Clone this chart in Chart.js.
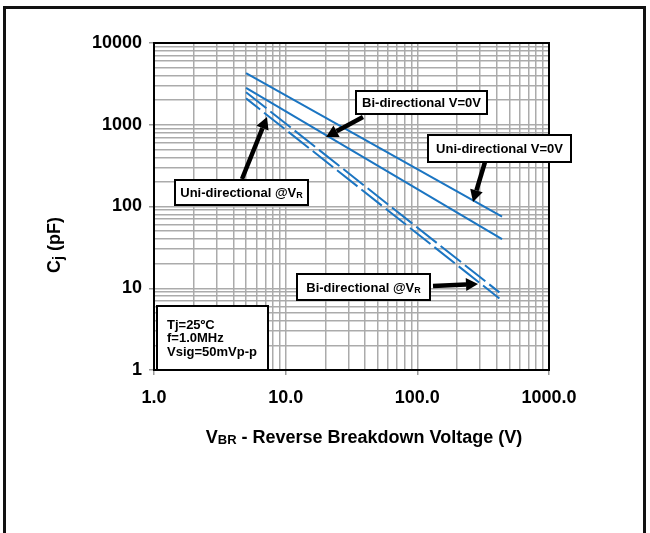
<!DOCTYPE html>
<html>
<head>
<meta charset="utf-8">
<script src="https://cdn.jsdelivr.net/npm/chart.js@4.4.1/dist/chart.umd.min.js"></script>
<style>
  html, body { margin: 0; padding: 0; background: #fff; }
  #chart { display: block; }
</style>
</head>
<body>
<canvas id="chart" width="650" height="533"></canvas>
<script>
// series (V_BR in volts, Cj in pF)
const uniZeroVbr = [5, 440];
const uniZeroCj = [4270, 75];
const biZeroVbr = [5, 440];
const biZeroCj = [2820, 40];
const uniVrVbr = [5, 420];
const uniVrCj = [2500, 8.9];
const biVrVbr = [5, 420];
const biVrCj = [2100, 7.5];

// axis ticks
const xMajor = [1, 10, 100, 1000];
const xLabels = ["1.0", "10.0", "100.0", "1000.0"];
const yMajor = [1, 10, 100, 1000, 10000];
const yLabels = ["1", "10", "100", "1000", "10000"];

const FONT = '"Liberation Sans", Arial, sans-serif';
const BLUE = "#1b75c2";

function toPoints(xs, ys) {
  return xs.map((x, i) => ({ x: x, y: ys[i] }));
}

function logTicks(majors) {
  const ticks = [];
  for (let i = 0; i < majors.length - 1; i++) {
    for (let k = 1; k < 10; k++) ticks.push({ value: majors[i] * k });
  }
  ticks.push({ value: majors[majors.length - 1] });
  return ticks;
}

function isMajor(v) {
  const l = Math.log10(v);
  return Math.abs(l - Math.round(l)) < 1e-9;
}

// draw text made of parts: [text, size, dy]
function drawRich(ctx, parts, x, y, align) {
  let w = 0;
  parts.forEach((p) => {
    ctx.font = `bold ${p[1]}px ${FONT}`;
    w += ctx.measureText(p[0]).width;
  });
  let cx = align === "center" ? x - w / 2 : x;
  ctx.textAlign = "left";
  ctx.textBaseline = "alphabetic";
  parts.forEach((p) => {
    ctx.font = `bold ${p[1]}px ${FONT}`;
    ctx.fillText(p[0], cx, y + (p[2] || 0));
    cx += ctx.measureText(p[0]).width;
  });
}

function drawArrow(ctx, x1, y1, x2, y2) {
  const ang = Math.atan2(y2 - y1, x2 - x1);
  const head = 12;
  const half = 6.5;
  const bx = x2 - head * Math.cos(ang);
  const by = y2 - head * Math.sin(ang);
  ctx.strokeStyle = "#000";
  ctx.lineWidth = 4.5;
  ctx.beginPath();
  ctx.moveTo(x1, y1);
  ctx.lineTo(bx, by);
  ctx.stroke();
  ctx.fillStyle = "#000";
  ctx.beginPath();
  ctx.moveTo(x2, y2);
  ctx.lineTo(bx + half * Math.sin(ang), by - half * Math.cos(ang));
  ctx.lineTo(bx - half * Math.sin(ang), by + half * Math.cos(ang));
  ctx.closePath();
  ctx.fill();
}

const boxes = [
  { r: [356, 91, 487, 114], parts: [["Bi-directional V=0V", 13]] },
  { r: [428, 135, 571, 162], parts: [["Uni-directional V=0V", 13]] },
  { r: [175, 180, 308, 205], parts: [["Uni-directional @V", 13], ["R", 9, 1]] },
  { r: [297, 274, 430, 300], parts: [["Bi-directional @V", 13], ["R", 9, 1]] },
];

const arrows = [
  [363, 117, 326, 137],
  [242, 179, 267, 117],
  [485, 162, 473, 202],
  [433, 286, 478, 284],
];

const plotFrame = {
  id: "plotFrame",
  beforeDatasetsDraw(chart) {
    const { ctx, chartArea: a } = chart;
    ctx.save();
    ctx.strokeStyle = "#000";
    ctx.lineWidth = 2;
    ctx.strokeRect(a.left, a.top, a.right - a.left, a.bottom - a.top);
    ctx.restore();
  },
};

const extras = {
  id: "extras",
  afterDatasetsDraw(chart) {
    const ctx = chart.ctx;
    ctx.save();

    boxes.forEach((b) => {
      const [x1, y1, x2, y2] = b.r;
      ctx.fillStyle = "#fff";
      ctx.fillRect(x1, y1, x2 - x1, y2 - y1);
      ctx.strokeStyle = "#000";
      ctx.lineWidth = 2;
      ctx.strokeRect(x1, y1, x2 - x1, y2 - y1);
      ctx.fillStyle = "#000";
      drawRich(ctx, b.parts, (x1 + x2) / 2, (y1 + y2) / 2 + 4.7, "center");
    });

    arrows.forEach((a) => drawArrow(ctx, a[0], a[1], a[2], a[3]));

    // test conditions box
    ctx.fillStyle = "#fff";
    ctx.fillRect(157, 306, 111, 64);
    ctx.strokeStyle = "#000";
    ctx.lineWidth = 2;
    ctx.strokeRect(157, 306, 111, 64);
    ctx.fillStyle = "#000";
    drawRich(ctx, [["Tj=25ºC", 13]], 167, 329, "left");
    drawRich(ctx, [["f=1.0MHz", 13]], 167, 342, "left");
    drawRich(ctx, [["Vsig=50mVp-p", 13]], 167, 356, "left");

    ctx.restore();
  },
  afterDraw(chart) {
    const ctx = chart.ctx;
    ctx.save();
    ctx.fillStyle = "#000";

    // x title
    drawRich(ctx, [["V", 18], ["BR", 13, 1], [" - Reverse Breakdown Voltage (V)", 18]], 364, 443, "center");

    // y title, rotated
    ctx.translate(60, 245);
    ctx.rotate(-Math.PI / 2);
    drawRich(ctx, [["C", 18], ["j", 14, 3], [" (pF)", 18]], 0, 0, "center");
    ctx.restore();

    // outer frame
    ctx.save();
    ctx.strokeStyle = "#111";
    ctx.lineWidth = 3;
    ctx.beginPath();
    ctx.moveTo(4.5, 533);
    ctx.lineTo(4.5, 7.5);
    ctx.lineTo(644.5, 7.5);
    ctx.lineTo(644.5, 533);
    ctx.stroke();
    ctx.restore();
  },
};

function lineSet(label, xs, ys, dash, offset) {
  return {
    label: label,
    data: toPoints(xs, ys),
    borderColor: BLUE,
    borderWidth: 2,
    borderDash: dash,
    borderDashOffset: offset,
    pointRadius: 0,
    tension: 0,
    fill: false,
  };
}

const gridOpts = {
  color: "#ababab",
  lineWidth: 1.5,
  drawTicks: true,
  tickLength: 5,
  tickColor: (c) => (c.tick && isMajor(c.tick.value) ? "#9a9a9a" : "rgba(0,0,0,0)"),
};

new Chart(document.getElementById("chart"), {
  type: "line",
  data: {
    datasets: [
      lineSet("Uni-directional V=0V", uniZeroVbr, uniZeroCj, [], 0),
      lineSet("Bi-directional V=0V", biZeroVbr, biZeroCj, [], 0),
      lineSet("Uni-directional @VR", uniVrVbr, uniVrCj, [26, 5], 0),
      lineSet("Bi-directional @VR", biVrVbr, biVrCj, [26, 5], 8),
    ],
  },
  options: {
    responsive: false,
    animation: false,
    layout: { padding: { left: 0, top: 43, right: 101, bottom: 0 } },
    plugins: {
      legend: { display: false },
      tooltip: { enabled: false },
    },
    scales: {
      x: {
        type: "logarithmic",
        min: 1,
        max: 1000,
        border: { display: false },
        grid: gridOpts,
        afterBuildTicks: (axis) => { axis.ticks = logTicks(xMajor); },
        afterFit: (axis) => { axis.height = 163; },
        ticks: {
          autoSkip: false,
          maxRotation: 0,
          minRotation: 0,
          padding: 12,
          color: "#000",
          font: { family: FONT, size: 18, weight: "bold" },
          callback: (v) => {
            const i = xMajor.indexOf(v);
            return i >= 0 ? xLabels[i] : "";
          },
        },
      },
      y: {
        type: "logarithmic",
        min: 1,
        max: 10000,
        border: { display: false },
        grid: gridOpts,
        afterBuildTicks: (axis) => { axis.ticks = logTicks(yMajor); },
        afterFit: (axis) => { axis.width = 154; },
        ticks: {
          autoSkip: false,
          padding: 7,
          color: "#000",
          font: { family: FONT, size: 18, weight: "bold" },
          callback: (v) => {
            const i = yMajor.indexOf(v);
            return i >= 0 ? yLabels[i] : "";
          },
        },
      },
    },
  },
  plugins: [plotFrame, extras],
});
</script>
</body>
</html>
